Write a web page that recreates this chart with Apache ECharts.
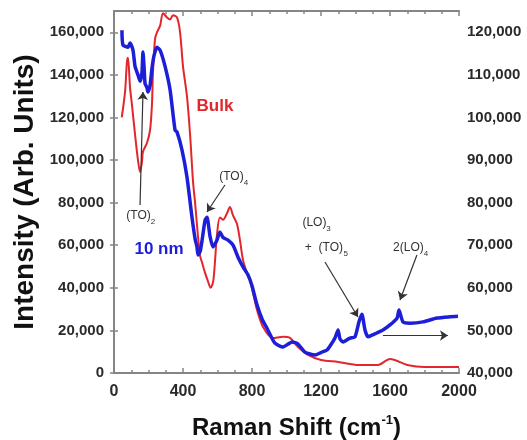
<!DOCTYPE html>
<html>
<head>
<meta charset="UTF-8">
<title>Raman</title>
<script src="https://cdn.jsdelivr.net/npm/echarts@6/dist/echarts.min.js"></script>
<style>
  body { margin: 0; background: #fff; }
  #chart { width: 527px; height: 440px; }
</style>
</head>
<body>
<div id="chart"></div>
<script>
// Bulk (red) -> left axis
var bulkShift = [45, 64, 75, 81, 93, 104, 122, 139, 151, 162, 168, 191, 209, 220, 226, 238, 249, 267, 284, 307, 325, 342, 365, 383, 400, 423, 441, 458, 470, 487, 499, 510, 528, 545, 560, 575, 586, 597, 614, 632, 655, 672, 690, 713, 730, 748, 771, 788, 829, 864, 921, 980, 1020, 1067, 1125, 1200, 1300, 1420, 1530, 1600, 1700, 1800, 2000];
var bulkInt = [120000, 132000, 146000, 148000, 134000, 126000, 112000, 100000, 94400, 99000, 104000, 108000, 114000, 126000, 141000, 157000, 160000, 163000, 169000, 167000, 166000, 168000, 167000, 160000, 144000, 130000, 112000, 90000, 80000, 64000, 55000, 52000, 47000, 43000, 40000, 43000, 53000, 65000, 73000, 72000, 75000, 78000, 74000, 70000, 62500, 53000, 47000, 43700, 29600, 21600, 16400, 17000, 16500, 12200, 8500, 6100, 5200, 3800, 3800, 6600, 3800, 2800, 2800];

// 10 nm (blue) -> right axis
var nmShift = [46, 52, 81, 93, 110, 122, 139, 151, 162, 168, 174, 180, 191, 197, 209, 220, 232, 249, 267, 296, 325, 354, 365, 394, 423, 452, 470, 481, 487, 499, 510, 528, 539, 557, 574, 597, 614, 632, 661, 690, 719, 748, 777, 800, 829, 860, 887, 933, 980, 1010, 1032, 1067, 1107, 1165, 1200, 1235, 1260, 1281, 1299, 1310, 1328, 1368, 1397, 1420, 1437, 1455, 1472, 1496, 1559, 1600, 1641, 1652, 1675, 1716, 1791, 1872, 1948, 1994];
var nmInt = [120500, 117000, 116500, 117500, 115800, 112000, 110000, 108500, 110500, 115400, 112000, 108000, 107000, 106000, 107500, 111500, 114500, 116500, 115800, 112000, 106500, 97000, 96600, 92400, 86000, 76600, 71500, 69600, 67700, 68500, 71000, 75900, 76600, 72000, 69600, 71200, 73100, 71800, 71200, 70000, 67200, 64900, 63000, 60500, 56000, 52500, 50500, 47000, 46100, 46800, 47300, 46800, 44900, 44200, 44800, 45400, 46800, 48200, 50100, 48000, 47300, 48200, 48500, 52000, 53800, 50100, 48500, 48900, 50100, 51300, 52900, 54800, 52000, 51700, 52000, 52900, 53200, 53300];

// annotation arrows, in bulk-axis units: [x1, y1, x2, y2]
var arrows = [
  [151, 78900, 168, 132000],
  [643, 88300, 539, 75600],
  [1223, 52100, 1414, 26300],
  [1756, 55400, 1658, 34300],
  [1559, 17600, 1936, 17600]
];
// annotation texts: [text, x, y, size]
var notes = [
  ['(TO)', 142, 73700, 12], ['2', 226, 70900, 8],
  ['(TO)', 681, 92000, 12], ['4', 765, 89200, 8],
  ['(LO)', 1162, 70400, 12], ['3', 1244, 67600, 8],
  ['+  (TO)', 1217, 58700, 12], ['5', 1343, 55900, 8],
  ['2(LO)', 1707, 58700, 12], ['4', 1808, 55900, 8]
];

var RED = '#e3262b';
var BLUE = '#1c1ed8';
var FONT = 'Liberation Sans, Arial, sans-serif';

function zip(a, b) {
  var out = [];
  for (var i = 0; i < a.length; i++) out.push([a[i], b[i]]);
  return out;
}
function comma(v) {
  return String(v).replace(/\B(?=(\d{3})+(?!\d))/g, ',');
}

var axisLine = { lineStyle: { color: '#858585', width: 2 } };
var labelStyle = { fontFamily: FONT, fontWeight: 'bold', fontSize: 15, color: '#2a2a2a' };

var markLineData = arrows.map(function (a) {
  return [{ coord: [a[0], a[1]] }, { coord: [a[2], a[3]] }];
});
var markPointData = notes.map(function (n) {
  return {
    coord: [n[1], n[2]],
    label: { show: true, position: 'inside', formatter: n[0], fontFamily: FONT, fontSize: n[3], color: '#333' }
  };
});
markPointData.push({
  coord: [585, 125400],
  label: { show: true, position: 'inside', formatter: 'Bulk', fontFamily: FONT, fontWeight: 'bold', fontSize: 17, color: RED }
});
markPointData.push({
  coord: [261, 58200],
  label: { show: true, position: 'inside', formatter: '10 nm', fontFamily: FONT, fontWeight: 'bold', fontSize: 17, color: BLUE }
});

var option = {
  animation: false,
  grid: { left: 114, right: 68, top: 11, bottom: 67, outerBoundsMode: 'none', containLabel: false },
  xAxis: [{
    type: 'value', min: 0, max: 2000, interval: 400,
    axisLine: axisLine,
    axisTick: { inside: true, length: 5, lineStyle: { color: '#858585', width: 1.5 } },
    minorTick: { show: true, splitNumber: 4, length: 3, lineStyle: { color: '#858585', width: 1.5 } },
    splitLine: { show: false },
    axisLabel: Object.assign({}, labelStyle, {
      margin: 11, fontSize: 16,
      formatter: function (v) { return String(v); }
    }),
    name: '{a|Raman Shift (cm}{b|-1}{a|)}',
    nameLocation: 'middle', nameGap: 41,
    nameTextStyle: {
      padding: [0, 0, 0, 20],
      rich: {
        a: { fontFamily: FONT, fontWeight: 'bold', fontSize: 24, color: '#111', lineHeight: 28, verticalAlign: 'middle' },
        b: { fontFamily: FONT, fontWeight: 'bold', fontSize: 13, color: '#111', lineHeight: 12, verticalAlign: 'top' }
      }
    }
  }, {
    type: 'value', min: 0, max: 2000, interval: 400, position: 'top',
    axisLine: axisLine,
    axisTick: { inside: true, length: 5, lineStyle: { color: '#858585', width: 1.5 } },
    minorTick: { show: true, splitNumber: 4, length: 3, lineStyle: { color: '#858585', width: 1.5 } },
    splitLine: { show: false },
    axisLabel: { show: false }
  }],
  yAxis: [{
    type: 'value', min: 0, max: 170000, interval: 20000,
    axisLine: Object.assign({ show: true }, axisLine),
    axisTick: { inside: true, length: 4, lineStyle: { color: '#858585', width: 1.5 } },
    splitLine: { show: false },
    axisLabel: Object.assign({ margin: 10, showMaxLabel: false, formatter: comma }, labelStyle),
    name: 'Intensity (Arb. Units)',
    nameLocation: 'middle', nameGap: 74, nameRotate: 90,
    nameTextStyle: { fontFamily: FONT, fontWeight: 'bold', fontSize: 28, color: '#111' }
  }, {
    type: 'value', min: 40000, max: 125000, interval: 10000, position: 'right',
    axisLine: Object.assign({ show: true }, axisLine),
    axisTick: { inside: true, length: 4, lineStyle: { color: '#858585', width: 1.5 } },
    splitLine: { show: false },
    axisLabel: Object.assign({ margin: 8, showMaxLabel: false, formatter: comma }, labelStyle)
  }],
  series: [{
    name: 'Bulk', type: 'line', xAxisIndex: 0, yAxisIndex: 0,
    data: zip(bulkShift, bulkInt),
    showSymbol: false, smooth: 0.3,
    lineStyle: { color: RED, width: 2 },
    z: 2,
    markLine: {
      silent: true, animation: false,
      symbol: ['none', 'arrow'], symbolSize: 8,
      label: { show: false },
      lineStyle: { color: '#333', width: 1.2, type: 'solid' },
      emphasis: { disabled: true },
      data: markLineData
    },
    markPoint: {
      silent: true, animation: false,
      symbol: 'circle', symbolSize: 0,
      itemStyle: { color: 'transparent' },
      data: markPointData
    }
  }, {
    name: '10 nm', type: 'line', xAxisIndex: 0, yAxisIndex: 1,
    data: zip(nmShift, nmInt),
    showSymbol: false, smooth: 0.2,
    lineStyle: { color: BLUE, width: 3.5 },
    z: 3
  }]
};

var chart = echarts.init(document.getElementById('chart'));
chart.setOption(option);
</script>
</body>
</html>
